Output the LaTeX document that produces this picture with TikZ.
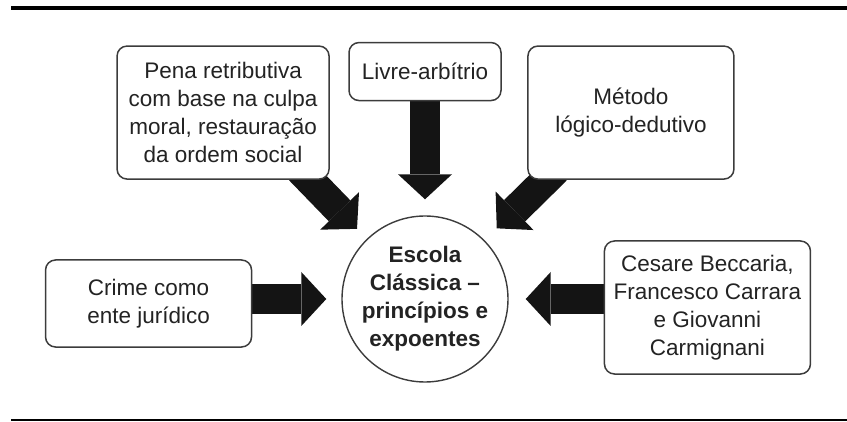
\documentclass[tikz,border=0pt]{standalone}
\usepackage{fontspec}
\setmainfont{Liberation Sans}
\usetikzlibrary{positioning,arrows.meta,backgrounds}
\definecolor{boxline}{RGB}{60,60,60}
\definecolor{ink}{RGB}{35,35,35}
\definecolor{arrowink}{RGB}{20,20,20}
\tikzset{
  box/.style={draw=boxline,line width=1.5pt,rounded corners=10pt,fill=white,align=center,text=ink,inner sep=0pt},
  fat/.style={draw=arrowink,line width=30pt,-{Triangle[length=25pt,width=54pt,line width=0pt]}}
}

\begin{document}
\begin{tikzpicture}[x=1pt,y=1pt,font=\fontsize{22.5pt}{28pt}\selectfont]
\useasboundingbox (0,0) rectangle (847,421);
\draw[line width=4pt] (11,413) -- (847,413);
\draw[line width=1.2pt] (11,1) -- (847,1);

\node[draw=boxline,circle,line width=1.4pt,fill=white,minimum size=166pt,inner sep=0pt,align=center,text=ink,font=\fontsize{22.5pt}{28pt}\selectfont\bfseries] (esc) at (425,122) {Escola\\Clássica --\\princípios e\\expoentes};

\node[box,minimum width=212pt,minimum height=133pt,above left=60pt and 36pt of esc] (pena) {Pena retributiva\\com base na culpa\\moral, restauração\\da ordem social};
\node[box,minimum width=152pt,minimum height=58pt,above=114pt of esc] (livre) {Livre-arbítrio};
\node[box,minimum width=206pt,minimum height=133pt,above right=60pt and 43pt of esc] (metodo) {Método\\lógico-dedutivo};
\node[box,minimum width=206pt,minimum height=87pt,left=89pt of esc,yshift=-4.5pt] (crime) {Crime como\\ente jurídico};
\node[box,minimum width=206pt,minimum height=133pt,right=95pt of esc,yshift=-8.5pt] (cesare) {Cesare Beccaria,\\Francesco Carrara\\e Giovanni\\Carmignani};

% block arrows behind the boxes
\begin{scope}[on background layer]
\draw[fat,shorten >=14pt] ([shift={(-30pt,10pt)}]pena.south east) -- (esc);
\draw[fat,shorten >=16pt] (livre.south) -- (livre.south |- esc.north);
\draw[fat,shorten >=17pt] ([shift={(29pt,10pt)}]metodo.south west) -- (esc);
\draw[fat,shorten >=15pt] (crime.east |- esc.west) -- (esc.west);
\draw[fat,shorten >=17pt] (cesare.west |- esc.east) -- (esc.east);
\end{scope}
\end{tikzpicture}
\end{document}
